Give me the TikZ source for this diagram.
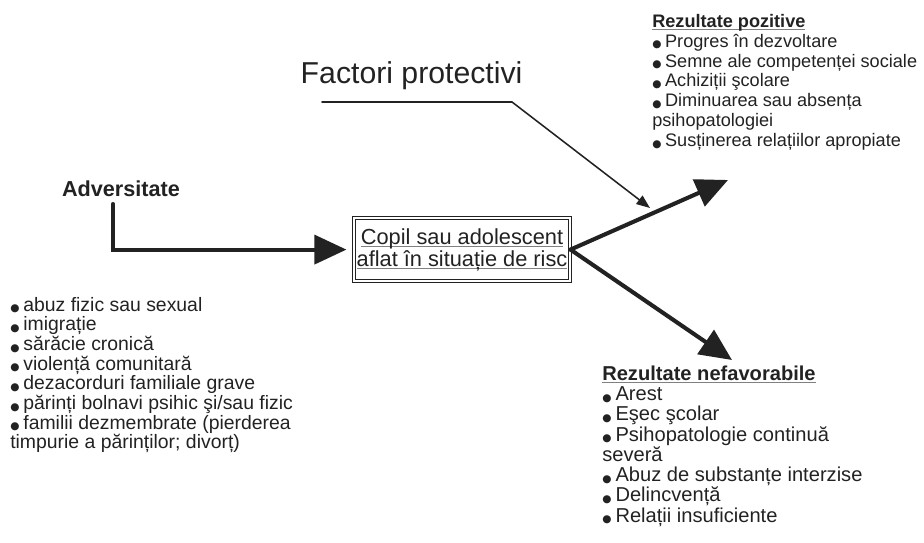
\documentclass[tikz,border=0pt]{standalone}
\usepackage{fontspec}
\setmainfont{Liberation Sans}
\newfontfamily\dotfont{DejaVu Sans}
\usepackage{tikz}
\usetikzlibrary{positioning, arrows.meta}

\definecolor{ink}{HTML}{222222}
\newsavebox{\undlbox}
\newcommand{\undl}[1]{\sbox{\undlbox}{#1}\rlap{\textcolor{gray}{\rule[-2pt]{\wd\undlbox}{0.8pt}}}\usebox{\undlbox}}
\newcommand{\bul}{\raisebox{-0.5pt}{\dotfont\fontsize{7.5}{7.5}\selectfont ●}\hspace{0.2em}}

\begin{document}
\begin{tikzpicture}[line cap=round,
    bigarrow/.style={line width=2.9pt, draw=ink, -{Triangle[length=0.8cm, width=0.72cm]}},
    listtext/.style={align=left, inner sep=0pt, anchor=north west, text=ink}]
    % frame
    \useasboundingbox (0,0) rectangle (23.1,-13.575);

    % central box
    \node[draw=ink, double, double distance=1.5pt, line width=0.7pt, minimum width=5.4cm, minimum height=1.58cm,
          inner sep=0pt, align=center, text=ink, font=\fontsize{15.5}{14.5}\selectfont] (risc) at (11.55,-6.24)
          {\undl{Copil sau adolescent}\\\undl{aflat în situație de risc}};

    % adversity
    \node[font=\fontsize{15.4}{18}\selectfont\bfseries, text=ink, anchor=base] (adv) at (3.025,-4.925) {Adversitate};
    \coordinate (advfoot) at (2.825,-5.1);
    \draw[bigarrow, shorten >=5pt] (advfoot) |- (risc.west);

    % outcomes
    \coordinate (poztip) at (18.2,-4.5);
    \coordinate (negtip) at (18.3,-9.0);
    \draw[bigarrow] (risc.east) -- (poztip);
    \draw[bigarrow] (risc.east) -- (negtip);

    % protective factors
    \node[font=\fontsize{21.5}{24}\selectfont, text=ink, anchor=base] (fp) at (10.29,-2.09) {Factori protectivi};
    \coordinate (fpleft) at (8.05,-2.55);
    \coordinate (fpbend) at (12.8,-2.55);
    \coordinate (fptip) at (16.25,-5.2);
    \draw[ink, line width=1.1pt, -{Triangle[length=0.34cm, width=0.26cm]}] (fpleft) -- (fpbend) -- (fptip);

    % lists
    \node[listtext, font=\fontsize{13.8}{14}\selectfont] (adverse) at (0.25,-7.42)
        {\bul abuz fizic sau sexual\\
         \bul imigrație\\
         \bul sărăcie cronică\\
         \bul violență comunitară\\
         \bul dezacorduri familiale grave\\
         \bul părinți bolnavi psihic şi/sau fizic\\
         \bul familii dezmembrate (pierderea\\
         timpurie a părinților; divorț)};
    \node[listtext, font=\fontsize{12.9}{14.1}\selectfont] (pozitive) at (16.3,-0.35)
        {\textbf{\undl{Rezultate pozitive}}\\
         \bul Progres în dezvoltare\\
         \bul Semne ale competenței sociale\\
         \bul Achiziții şcolare\\
         \bul Diminuarea sau absența\\
         psihopatologiei\\
         \bul Susținerea relațiilor apropiate};
    \node[listtext, font=\fontsize{14.3}{14.4}\selectfont] (nefav) at (15.05,-9.14)
        {\textbf{\undl{Rezultate nefavorabile}}\\
         \bul Arest\\
         \bul Eşec şcolar\\
         \bul Psihopatologie continuă\\
         severă\\
         \bul Abuz de substanțe interzise\\
         \bul Delincvență\\
         \bul Relații insuficiente};
\end{tikzpicture}
\end{document}
